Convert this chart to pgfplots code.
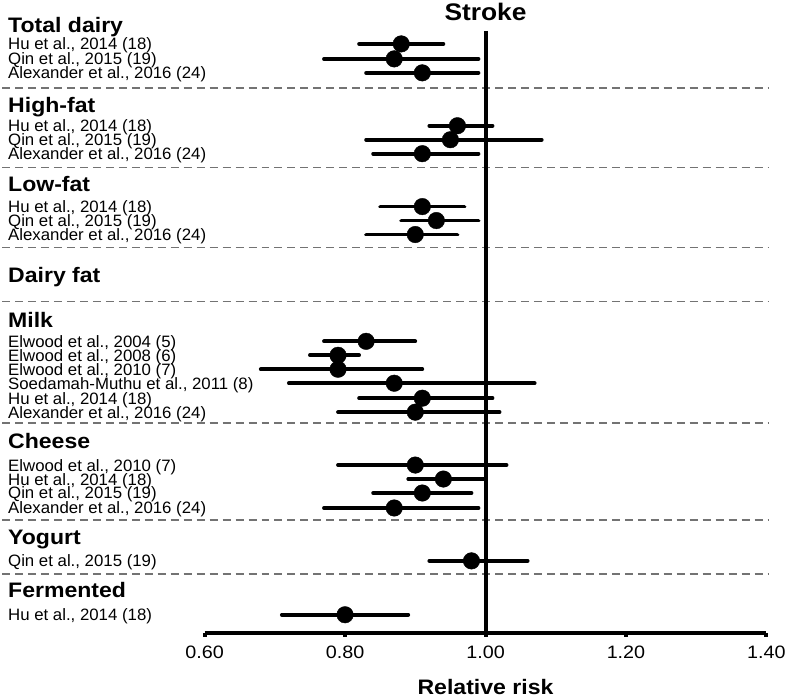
\documentclass[border=0pt]{standalone}
\usepackage{pgfplots}
\pgfplotsset{compat=1.18}
\usepackage{pgfplotstable}
\usepackage{fontspec}
\setmainfont[FakeStretch=1.1]{Liberation Sans}
\newfontfamily\labfont[FakeStretch=1.02]{Liberation Sans}

\pgfplotstableread{
y rr lo hi
-44 0.88 0.82 0.94
-59 0.87 0.77 0.99
-73 0.91 0.83 0.99
-126 0.96 0.92 1.01
-140 0.95 0.83 1.08
-154 0.91 0.84 0.99
-207 0.91 0.85 0.97
-221 0.93 0.88 0.99
-235 0.90 0.83 0.96
-342 0.83 0.77 0.90
-356 0.79 0.75 0.82
-370 0.79 0.68 0.91
-384 0.87 0.72 1.07
-399 0.91 0.82 1.01
-413 0.90 0.79 1.02
-466 0.90 0.79 1.03
-480 0.94 0.89 1.00
-494 0.91 0.84 0.98
-509 0.87 0.77 0.99
-562 0.98 0.92 1.06
-616 0.80 0.71 0.89
}\datatable

\newcommand{\lab}[2]{\node[anchor=base west, inner sep=0pt, font=\labfont\fontsize{16.5}{16.5}\selectfont] at (axis cs:0.3201,-#1) {#2};}
\newcommand{\hdr}[2]{\node[anchor=base west, inner sep=0pt, font=\bfseries\fontsize{21}{21}\selectfont] at (axis cs:0.3201,-#1) {#2};}
\newcommand{\sep}[1]{\draw[color=black!55, line width=1.5pt, dash pattern=on 8pt off 5pt] (axis cs:0.3116,-#1) -- (axis cs:1.4028,-#1);}

\begin{document}
\begin{tikzpicture}
\begin{axis}[
  scale only axis, width=563pt, height=603pt,
  xmin=0.6, xmax=1.4, ymin=-634, ymax=-31,
  axis y line=none, axis x line=bottom,
  x axis line style={-, line width=4pt},
  xtick={0.6,0.8,1.0,1.2,1.4},
  xticklabels={0.60,0.80,1.00,1.20,1.40},
  tick align=outside, major tick length=4pt,
  xtick style={line width=4pt, black},
  xticklabel style={font=\fontsize{18}{18}\selectfont, yshift=-6pt},
  clip=false,
]
\path (axis cs:0.3087,0) rectangle (axis cs:1.4298,-699);
\sep{88}\sep{168}\sep{248}\sep{302}\sep{424}\sep{521}\sep{575}
\addplot[black, line width=4pt, mark=none] coordinates {(1,-31) (1,-634)};
\addplot[black, only marks, mark=*, mark size=8.3pt,
  error bars/.cd, x dir=both, x explicit, error mark=none,
  error bar style={line width=3.8pt, line cap=round, black}]
  table[x=rr, y=y, x error plus expr=\thisrow{hi}-\thisrow{rr}, x error minus expr=\thisrow{rr}-\thisrow{lo}] {\datatable};
\hdr{33}{Total dairy}
\lab{50}{Hu et al., 2014 (18)}
\lab{65}{Qin et al., 2015 (19)}
\lab{79}{Alexander et al., 2016 (24)}
\hdr{113}{High-fat}
\lab{132}{Hu et al., 2014 (18)}
\lab{146}{Qin et al., 2015 (19)}
\lab{160}{Alexander et al., 2016 (24)}
\hdr{192}{Low-fat}
\lab{213}{Hu et al., 2014 (18)}
\lab{227}{Qin et al., 2015 (19)}
\lab{241}{Alexander et al., 2016 (24)}
\hdr{283}{Dairy fat}
\hdr{328}{Milk}
\lab{348}{Elwood et al., 2004 (5)}
\lab{362}{Elwood et al., 2008 (6)}
\lab{376}{Elwood et al., 2010 (7)}
\lab{390}{Soedamah-Muthu et al., 2011 (8)}
\lab{405}{Hu et al., 2014 (18)}
\lab{419}{Alexander et al., 2016 (24)}
\hdr{449}{Cheese}
\lab{472}{Elwood et al., 2010 (7)}
\lab{486}{Hu et al., 2014 (18)}
\lab{500}{Qin et al., 2015 (19)}
\lab{515}{Alexander et al., 2016 (24)}
\hdr{546}{Yogurt}
\lab{568}{Qin et al., 2015 (19)}
\hdr{599}{Fermented}
\lab{622}{Hu et al., 2014 (18)}
\node[anchor=base, inner sep=0pt, font=\bfseries\fontsize{24}{24}\selectfont] at (axis cs:1,-21) {Stroke};
\node[anchor=base, inner sep=0pt, font=\bfseries\fontsize{21}{21}\selectfont] at (axis cs:1,-696) {Relative risk};
\end{axis}
\end{tikzpicture}
\end{document}
